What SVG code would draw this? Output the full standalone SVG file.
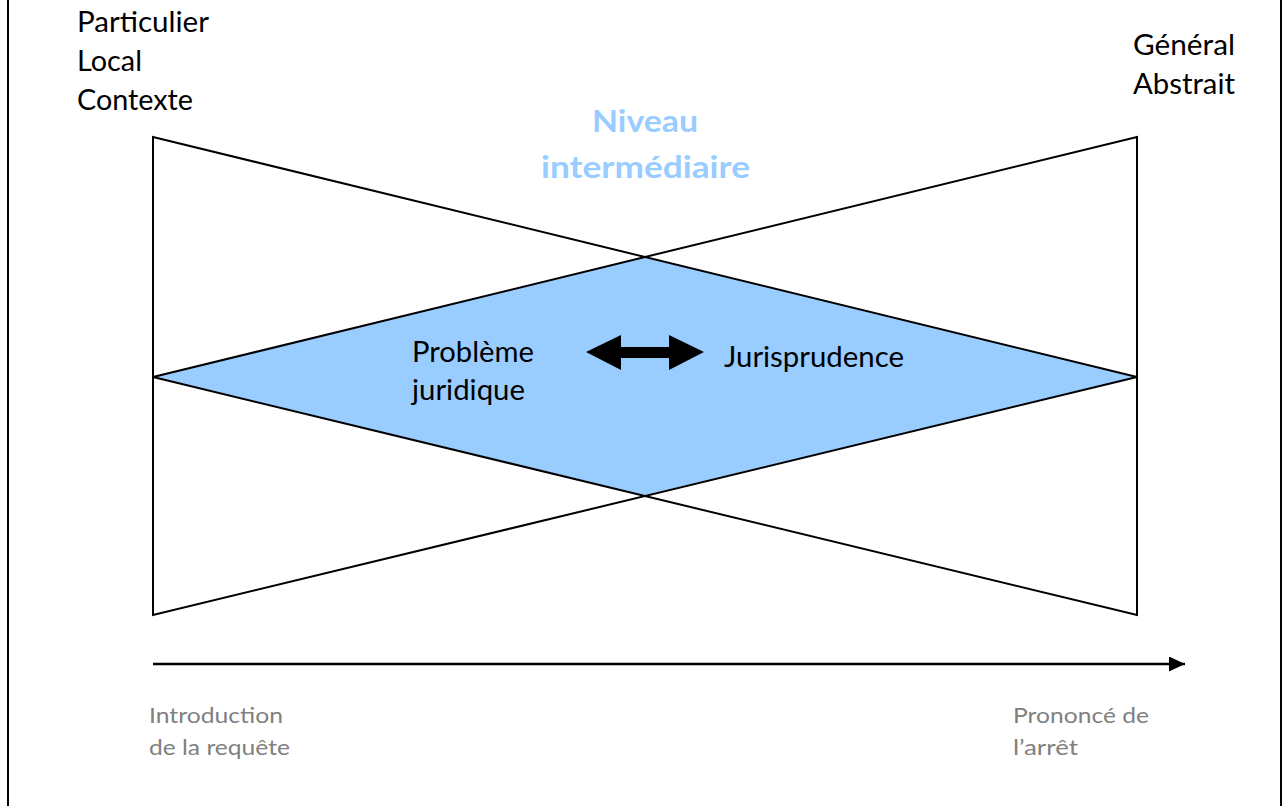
<svg xmlns="http://www.w3.org/2000/svg" width="1285" height="806" viewBox="0 0 1285 806">
  <defs>
    <style>
      .frame { stroke: #000; stroke-width: 2; fill: none; }
      .edge { stroke: #000; stroke-width: 2; fill: none; stroke-linejoin: miter; }
      .lbl { font-family: Lato, "Open Sans", "Liberation Sans", sans-serif; font-size: 29px; fill: #000; }
      .mid { font-family: Lato, "Open Sans", "Liberation Sans", sans-serif; font-size: 30px; font-weight: bold; fill: #99CCFF; }
      .time { font-family: Lato, "Open Sans", "Liberation Sans", sans-serif; font-size: 22px; fill: #808080; }
    </style>
    <marker id="head" markerWidth="16" markerHeight="15" refX="16" refY="7.5" orient="auto" markerUnits="userSpaceOnUse">
      <path d="M0,0 L16,7.5 L0,15 Z" fill="#000"/>
    </marker>
  </defs>

  <rect width="1285" height="806" fill="#fff"/>

  <!-- page side rules -->
  <g id="frame">
    <line class="frame" x1="8" y1="0" x2="8" y2="806"/>
    <line class="frame" x1="1281" y1="0" x2="1281" y2="806"/>
  </g>

  <!-- overlap of the two triangles -->
  <g id="overlap">
    <polygon points="153,377 645,257 1137,377 645,495" fill="#99CCFF"/>
  </g>

  <!-- triangle widening from left side -->
  <g id="left-triangle">
    <polygon class="edge" points="153,137 1137,377 153,615"/>
  </g>

  <!-- triangle widening from right side -->
  <g id="right-triangle">
    <polygon class="edge" points="1137,137 153,377 1137,615"/>
  </g>

  <g id="label-particulier">
    <text class="lbl" x="77" y="32" textLength="132" lengthAdjust="spacingAndGlyphs">Particulier</text>
    <text class="lbl" x="77" y="71" textLength="65" lengthAdjust="spacingAndGlyphs">Local</text>
    <text class="lbl" x="77" y="110" textLength="116" lengthAdjust="spacingAndGlyphs">Contexte</text>
  </g>

  <g id="label-general">
    <text class="lbl" x="1133" y="55" textLength="102" lengthAdjust="spacingAndGlyphs">Général</text>
    <text class="lbl" x="1133" y="94" textLength="102" lengthAdjust="spacingAndGlyphs">Abstrait</text>
  </g>

  <g id="label-niveau">
    <text class="mid" x="592" y="132" textLength="106" lengthAdjust="spacingAndGlyphs">Niveau</text>
    <text class="mid" x="541" y="178" textLength="209" lengthAdjust="spacingAndGlyphs">intermédiaire</text>
  </g>

  <g id="probleme">
    <text class="lbl" x="412" y="362" textLength="122" lengthAdjust="spacingAndGlyphs">Problème</text>
    <text class="lbl" x="412" y="400" textLength="113" lengthAdjust="spacingAndGlyphs">juridique</text>
  </g>

  <g id="jurisprudence">
    <text class="lbl" x="724" y="367" textLength="180" lengthAdjust="spacingAndGlyphs">Jurisprudence</text>
  </g>

  <g id="start">
    <text class="time" x="149" y="723" textLength="134" lengthAdjust="spacingAndGlyphs">Introduction</text>
    <text class="time" x="149" y="755" textLength="141" lengthAdjust="spacingAndGlyphs">de la requête</text>
  </g>

  <g id="end">
    <text class="time" x="1013" y="723" textLength="136" lengthAdjust="spacingAndGlyphs">Prononcé de</text>
    <text class="time" x="1013" y="755" textLength="65" lengthAdjust="spacingAndGlyphs">l’arrêt</text>
  </g>

  <g id="connectors">
    <!-- time axis -->
    <line x1="153" y1="664" x2="1185" y2="664" stroke="#000" stroke-width="2.5" marker-end="url(#head)"/>
    <!-- two-way block arrow between problem and case law -->
    <path d="M586,352 L621,335 L621,347 L669,347 L669,335 L704,352 L669,370 L669,358 L621,358 L621,370 Z" fill="#000"/>
  </g>
</svg>
